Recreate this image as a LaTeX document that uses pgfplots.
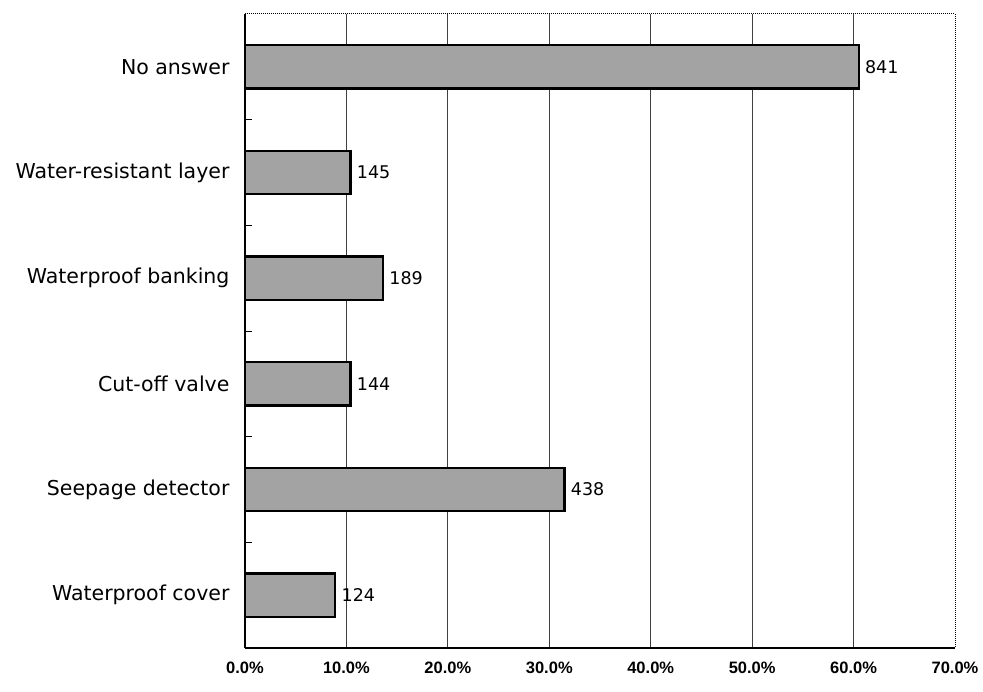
\documentclass[border=0pt]{standalone}
\usepackage{fontspec}
\setmainfont{DejaVu Sans}
\newfontfamily\tickfont{Liberation Sans}
\usepackage{pgfplots}
\pgfplotsset{compat=1.18}

\begin{document}
\begin{tikzpicture}[x=1pt,y=1pt]
\useasboundingbox (-245,-44) rectangle (738,648);
\begin{axis}[
  at={(0,0)}, anchor=south west,
  scale only axis, width=710pt, height=634pt,
  xbar, bar width=0.41,
  xmin=0, xmax=70, ymin=-0.5, ymax=5.5,
  axis x line*=bottom, axis y line*=left,
  axis line style={-, line width=1.3pt, black},
  xtick={10,20,...,60},
  extra x ticks={0,70},
  extra x tick style={grid=none},
  xticklabel={\pgfmathprintnumber[fixed,fixed zerofill,precision=1]{\tick}\%},
  /pgf/number format/assume math mode=true,
  xticklabel style={font=\tickfont\bfseries\fontsize{16.5}{20}\selectfont, yshift=-10pt},
  xmajorgrids,
  major grid style={black!75, line width=0.8pt},
  ytick={0,...,5},
  yticklabels={Waterproof cover,Seepage detector,Cut-off valve,Waterproof banking,Water-resistant layer,No answer},
  yticklabel style={font=\fontsize{20.5}{24}\selectfont, xshift=-12pt},
  minor ytick={0.5,1.5,2.5,3.5,4.5},
  major tick length=0pt, minor tick length=7pt,
  tick align=inside,
  tick style={black, line width=0.8pt},
  nodes near coords,
  point meta=explicit symbolic,
  nodes near coords style={anchor=west, font=\fontsize{17.5}{21}\selectfont, xshift=2pt},
  clip=false,
]
\addplot[fill=black!36, draw=black, line width=2.2pt]
  coordinates {(8.9,0) [124] (31.5,1) [438] (10.4,2) [144] (13.6,3) [189] (10.4,4) [145] (60.5,5) [841]};
\draw[densely dotted, line width=1pt] (rel axis cs:0,1) -- (rel axis cs:1,1) -- (rel axis cs:1,0);
\end{axis}
\end{tikzpicture}
\end{document}
